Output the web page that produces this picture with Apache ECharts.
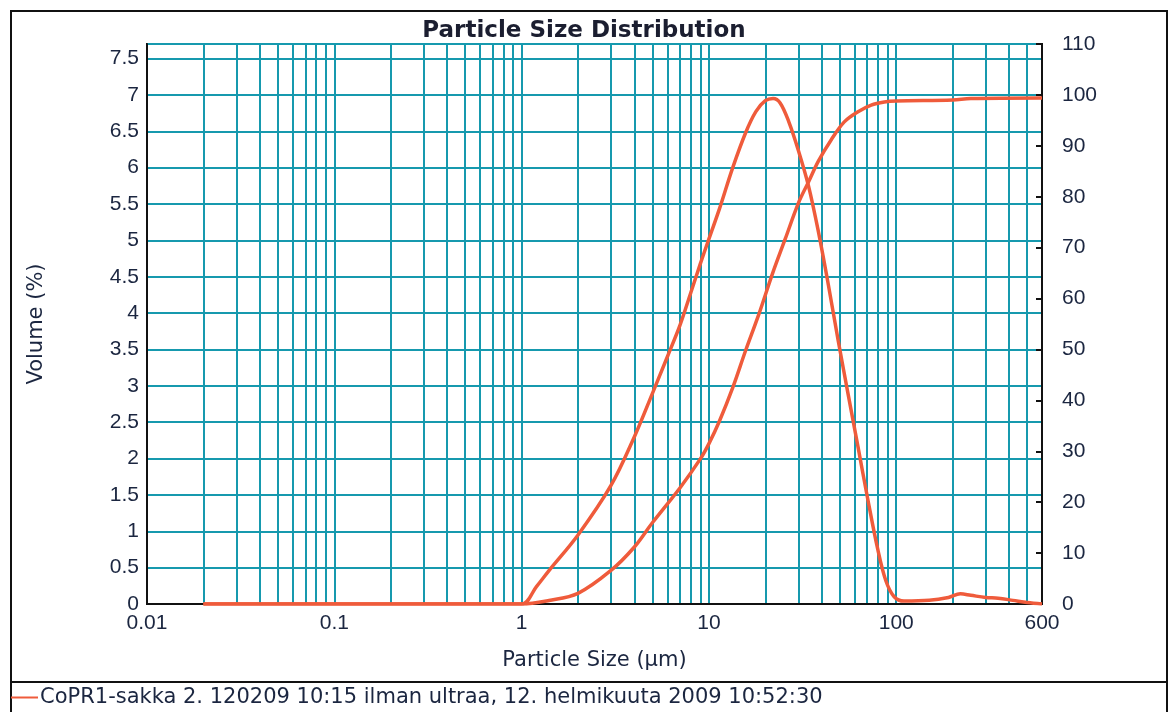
<!DOCTYPE html>
<html>
<head>
<meta charset="utf-8">
<script src="https://cdn.jsdelivr.net/npm/echarts@6/dist/echarts.min.js"></script>
<style>
  html, body { margin: 0; background: #fff; }
  #chart { width: 1168px; height: 712px; }
</style>
</head>
<body>
<div id="chart"></div>
<script>
// volume density curve (left axis, %)
const freqSize = [0.02, 0.5, 1, 1.2, 1.4, 2, 3, 4, 5, 6, 7, 8, 9, 10, 11.4, 13.4, 15.7, 17.8, 20, 22, 24, 26.7, 30, 34, 38.4, 43.4, 49, 55.3, 62.5, 70.6, 79.7, 88, 97.5, 110, 150, 190, 220, 250, 300, 350, 420, 500, 600];
const freqVolume = [0, 0, 0, 0.24, 0.46, 0.95, 1.63, 2.3, 2.9, 3.4, 3.83, 4.28, 4.68, 5.02, 5.44, 6.0, 6.48, 6.77, 6.92, 6.95, 6.89, 6.63, 6.24, 5.75, 5.12, 4.39, 3.62, 2.89, 2.16, 1.43, 0.75, 0.32, 0.1, 0.04, 0.05, 0.09, 0.14, 0.12, 0.09, 0.08, 0.05, 0.02, 0];

// cumulative undersize curve (right axis, %)
const cumSize = [0.02, 0.5, 1, 1.4, 2, 3, 4, 5, 7, 9, 10, 11.4, 13.4, 15.7, 18.5, 21.8, 25.6, 30, 34, 38.4, 45, 52.8, 62.5, 73.5, 86.4, 100, 200, 250, 600];
const cumVolume = [0, 0, 0, 0.7, 2.1, 6.6, 11.2, 16.0, 22.8, 28.5, 31.5, 36.0, 42.5, 49.8, 57.0, 64.8, 71.8, 78.7, 82.9, 87, 91.2, 94.7, 96.7, 98, 98.6, 98.8, 99.0, 99.3, 99.4];

const sizeLabels = [0.01, 0.1, 1, 10, 100, 600];
const sizeGrid = [
  0.01, 0.02, 0.03, 0.04, 0.05, 0.06, 0.07, 0.08, 0.09,
  0.1, 0.2, 0.3, 0.4, 0.5, 0.6, 0.7, 0.8, 0.9,
  1, 2, 3, 4, 5, 6, 7, 8, 9,
  10, 20, 30, 40, 50, 60, 70, 80, 90,
  100, 200, 300, 400, 500, 600
];

const seriesName = 'CoPR1-sakka 2. 120209 10:15 ilman ultraa, 12. helmikuuta 2009 10:52:30';
const lineColor = '#ef5b3b';
const gridColor = '#1699ae';
const textColor = '#1b2640';
const font = 'Liberation Sans, Arial, sans-serif';
const wideFont = 'DejaVu Sans, Verdana, sans-serif';

const chart = echarts.init(document.getElementById('chart'));

chart.setOption({
  animation: false,
  title: {
    text: 'Particle Size Distribution',
    left: 'center',
    top: 15,
    textStyle: { fontFamily: wideFont, fontSize: 23, fontWeight: 'bold', color: '#1b1e30' }
  },
  legend: {
    data: [seriesName],
    left: 11,
    top: 687,
    padding: 0,
    icon: 'rect',
    itemWidth: 27,
    itemHeight: 2,
    itemGap: 2,
    textStyle: { fontFamily: wideFont, fontSize: 21, color: textColor, padding: [0, 0, 0, -3] }
  },
  grid: {
    left: 147,
    right: 126,
    top: 44,
    bottom: 108,
    show: true,
    borderColor: '#111',
    borderWidth: 2,
    backgroundColor: 'transparent'
  },
  xAxis: {
    type: 'log',
    logBase: 10,
    min: 0.01,
    max: 600,
    name: 'Particle Size (µm)',
    nameLocation: 'middle',
    nameGap: 46,
    nameTextStyle: { fontFamily: wideFont, fontSize: 21, color: textColor },
    axisLine: { show: true, lineStyle: { color: '#111', width: 2 } },
    axisTick: { show: false, customValues: sizeGrid },
    axisLabel: {
      customValues: sizeLabels,
      margin: 9,
      fontFamily: font,
      fontSize: 21,
      color: textColor,
      formatter: v => String(v)
    },
    splitLine: { show: true, lineStyle: { color: gridColor, width: 2 } }
  },
  yAxis: [
    {
      type: 'value',
      min: 0,
      max: 7.7,
      interval: 0.5,
      name: 'Volume (%)',
      nameLocation: 'middle',
      nameGap: 100,
      nameRotate: 90,
      nameTextStyle: { fontFamily: wideFont, fontSize: 21, color: textColor },
      axisLine: { show: true, lineStyle: { color: '#111', width: 2 } },
      axisTick: { show: false },
      axisLabel: {
        margin: 8,
        showMaxLabel: false,
        fontFamily: font,
        fontSize: 21,
        color: textColor
      },
      splitLine: { show: true, lineStyle: { color: gridColor, width: 2 } }
    },
    {
      type: 'value',
      min: 0,
      max: 110,
      interval: 10,
      position: 'right',
      axisLine: { show: true, lineStyle: { color: '#111', width: 2 } },
      axisTick: { show: true, inside: true, length: 6, lineStyle: { color: '#111', width: 2 } },
      axisLabel: {
        margin: 20,
        fontFamily: font,
        fontSize: 21,
        color: textColor
      },
      splitLine: { show: false }
    }
  ],
  series: [
    {
      name: seriesName,
      type: 'line',
      yAxisIndex: 0,
      data: freqSize.map((s, i) => [s, freqVolume[i]]),
      smooth: 0.35,
      showSymbol: false,
      lineStyle: { color: lineColor, width: 3.5 },
      itemStyle: { color: lineColor },
      z: 5
    },
    {
      name: seriesName,
      type: 'line',
      yAxisIndex: 1,
      data: cumSize.map((s, i) => [s, cumVolume[i]]),
      smooth: 0.35,
      showSymbol: false,
      lineStyle: { color: lineColor, width: 3.5 },
      itemStyle: { color: lineColor },
      z: 5
    }
  ],
  graphic: [
    {
      type: 'rect',
      shape: { x: 11, y: 11, width: 1156, height: 740 },
      style: { fill: 'none', stroke: '#111', lineWidth: 2 },
      silent: true
    },
    {
      type: 'line',
      shape: { x1: 11, y1: 682, x2: 1167, y2: 682 },
      style: { stroke: '#111', lineWidth: 2 },
      silent: true
    }
  ]
});
</script>
</body>
</html>
